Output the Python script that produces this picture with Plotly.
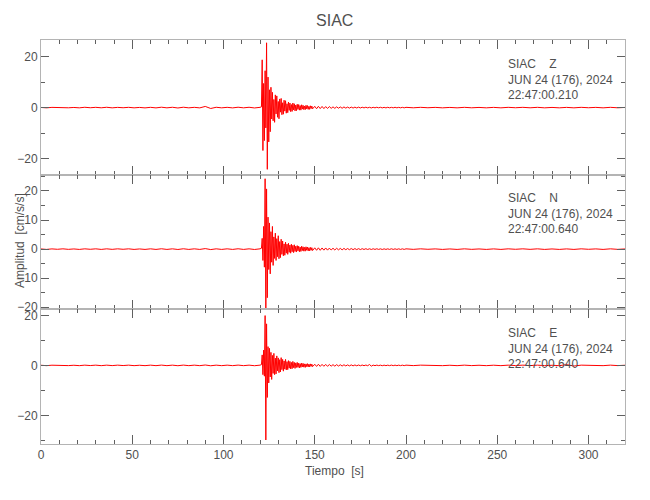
import numpy as np
import plotly.graph_objects as go
from plotly.subplots import make_subplots

# ---------------- data ----------------
station = "SIAC"
components = ["Z", "N", "E"]
date_label = "JUN 24 (176), 2024"
start_times = ["22:47:00.210", "22:47:00.640", "22:47:00.640"]

# sample timing of each segment [s]: (start, interval)
pre_start, pre_dt = 0.0, 3.0
evt_start, evt_dt = 120.8, 0.4
coda_start, coda_dt = 150.0, 1.0
post_start, post_dt = 200.0, 4.0

# Z component [cm/s/s]
z_pre = [0.05, -0.1, 0.08, -0.05, 0.1, -0.08, 0.05, -0.1, 0.12, -0.06,
         0.1, -0.08, 0.12, -0.1, 0.08, -0.06, 0.1, -0.1, 0.06, -0.12,
         0.1, -0.12, 0.15, -0.1, 0.12, -0.15, 0.14, -0.1, 0.1, -0.12,
         0.45, -0.35, 0.12, -0.1, 0.1, -0.12, 0.14, -0.1, 0.12, -0.14, 0.1]
z_evt = [0.3, 18.8, -16.9, 9.5, -13.0, 14.5, -8.0, 25.5, -24.3, 12.0,
         -13.5, 7.0, -9.5, 8.0, -4.5, 6.0, -5.2, 3.2, -5.8, 5.0,
         -2.5, 4.6, -3.8, 2.4, -4.4, 3.4, -1.8, 3.6, -2.8, 1.9,
         -2.6, 2.9, -1.4, 2.7, -2.2, 1.5, -2.0, 2.2, -1.1, 1.8,
         -1.6, 1.2, -1.5, 1.8, -0.9, 1.5, -1.3, 1.0, -1.2, 1.3,
         -0.7, 1.2, -1.0, 0.8, -1.0, 1.1, -0.6, 0.9, -0.8, 0.6,
         -0.8, 0.9, -0.5, 0.8, -0.7, 0.5, -0.7, 0.7, -0.4, 0.6, -0.5]
z_coda = [0.5, -0.45, 0.5, -0.4, 0.45, -0.4, 0.4, -0.35, 0.4, -0.3,
          0.3, -0.3, 0.3, -0.25, 0.25, -0.25, 0.25, -0.2, 0.2, -0.2,
          0.2, -0.18, 0.18, -0.15, 0.18, -0.15, 0.15, -0.12, 0.15, -0.12,
          0.12, -0.14, 0.12, -0.1, 0.14, -0.1, 0.12, -0.12, 0.1, -0.12,
          0.12, -0.1, 0.1, -0.1, 0.12, -0.1, 0.1, -0.1, 0.1, -0.1]
z_post = [0.1, -0.08, 0.1, -0.06, 0.08, -0.1, 0.06, -0.1, 0.1, -0.08,
          0.06, -0.1, 0.08, -0.1, 0.1, -0.06, 0.1, -0.08, 0.1, -0.1,
          0.06, -0.1, 0.08, -0.1, 0.1, -0.06, 0.08, -0.1, 0.1, -0.08, 0.06]

# N component [cm/s/s]
n_pre = [0.06, -0.1, 0.08, -0.06, 0.1, -0.08, 0.06, -0.1, 0.1, -0.06,
         0.1, -0.1, 0.1, -0.08, 0.1, -0.06, 0.1, -0.1, 0.06, -0.1,
         0.1, -0.1, 0.12, -0.1, 0.1, -0.12, 0.12, -0.1, 0.1, -0.1,
         0.18, -0.15, 0.1, -0.1, 0.1, -0.1, 0.12, -0.1, 0.1, -0.12, 0.1]
n_evt = [0.3, 3.7, -3.9, 7.8, -6.2, 24.2, -20.5, 20.7, -16.7, 11.0,
         -7.0, 9.0, -8.5, 6.0, -4.5, 7.8, -5.6, 4.2, -3.2, 5.5,
         -3.9, 3.6, -2.6, 4.6, -3.3, 2.6, -2.9, 3.4, -1.8, 2.8,
         -2.3, 1.8, -2.1, 2.4, -1.4, 1.7, -1.8, 2.0, -1.1, 1.4,
         -1.4, 1.7, -0.9, 1.3, -1.2, 1.5, -0.8, 1.0, -1.0, 1.2,
         -0.6, 1.0, -0.9, 0.7, -0.8, 1.0, -0.5, 0.8, -0.7, 0.6,
         -0.7, 0.8, -0.4, 0.7, -0.6, 0.5, -0.6, 0.6, -0.4, 0.5, -0.5]
n_coda = [0.45, -0.4, 0.45, -0.4, 0.4, -0.35, 0.4, -0.35, 0.35, -0.3,
          0.3, -0.3, 0.3, -0.25, 0.25, -0.25, 0.25, -0.2, 0.2, -0.2,
          0.2, -0.18, 0.18, -0.15, 0.16, -0.15, 0.15, -0.12, 0.14, -0.12,
          0.12, -0.12, 0.12, -0.1, 0.12, -0.1, 0.1, -0.12, 0.1, -0.1,
          0.1, -0.1, 0.12, -0.1, 0.1, -0.1, 0.1, -0.1, 0.1, -0.1]
n_post = [0.1, -0.08, 0.1, -0.06, 0.08, -0.1, 0.06, -0.1, 0.1, -0.08,
          0.06, -0.1, 0.08, -0.1, 0.1, -0.06, 0.1, -0.08, 0.1, -0.1,
          0.06, -0.1, 0.08, -0.1, 0.1, -0.06, 0.08, -0.1, 0.1, -0.08, 0.06]

# E component [cm/s/s]
e_pre = [0.06, -0.1, 0.08, -0.06, 0.1, -0.08, 0.06, -0.1, 0.1, -0.06,
         0.1, -0.1, 0.1, -0.08, 0.1, -0.06, 0.1, -0.1, 0.06, -0.1,
         0.1, -0.1, 0.12, -0.1, 0.1, -0.12, 0.12, -0.1, 0.1, -0.1,
         0.16, -0.14, 0.1, -0.1, 0.1, -0.1, 0.12, -0.1, 0.1, -0.12, 0.1]
e_evt = [0.3, 4.2, -3.7, 6.1, -4.3, 19.9, -29.8, 16.6, -12.8, 7.5,
         -7.0, 6.8, -4.6, 5.2, -5.6, 4.0, -3.2, 4.8, -3.7, 2.9,
         -3.4, 3.8, -2.2, 3.0, -2.9, 2.3, -2.6, 3.1, -1.7, 2.4,
         -2.3, 1.8, -1.5, 2.4, -1.8, 1.5, -1.7, 1.9, -1.1, 1.6,
         -1.4, 1.2, -1.3, 1.6, -0.9, 1.2, -1.2, 1.0, -0.8, 1.2,
         -0.8, 0.9, -1.0, 0.7, -0.8, 0.9, -0.6, 0.8, -0.7, 0.6,
         -0.8, 0.6, -0.5, 0.7, -0.6, 0.5, -0.6, 0.6, -0.4, 0.5, -0.5]
e_coda = [0.45, -0.4, 0.45, -0.4, 0.4, -0.35, 0.4, -0.35, 0.35, -0.3,
          0.3, -0.3, 0.3, -0.25, 0.25, -0.25, 0.25, -0.2, 0.2, -0.2,
          0.2, -0.18, 0.18, -0.15, 0.16, -0.15, 0.15, -0.12, 0.14, -0.12,
          0.35, -0.3, 0.12, -0.1, 0.12, -0.1, 0.1, -0.12, 0.1, -0.1,
          0.1, -0.1, 0.12, -0.1, 0.1, -0.1, 0.1, -0.1, 0.1, -0.1]
e_post = [0.1, -0.08, 0.1, -0.06, 0.08, -0.1, 0.06, -0.1, 0.1, -0.08,
          0.06, -0.1, 0.08, -0.1, 0.1, -0.06, 0.1, -0.08, 0.1, -0.1,
          0.06, -0.1, 0.3, -0.25, 0.1, -0.06, 0.08, -0.1, 0.1, -0.08, 0.06]

traces = [(z_pre, z_evt, z_coda, z_post),
          (n_pre, n_evt, n_coda, n_post),
          (e_pre, e_evt, e_coda, e_post)]

x_range = [0, 320]
y_ranges = [[-26.4, 26.6], [-20.7, 25.6], [-31.4, 22.4]]
y_dticks = [20, 10, 20]
y_minor = [10, 5, 10]
x_ticks = [0, 50, 100, 150, 200, 250, 300]


def sample_times(start, dt, vals):
    return list(start + dt * np.arange(len(vals)))


# ---------------- figure ----------------
FONT = "Liberation Sans, Arial, sans-serif"
TXT = "#505050"
AXC = "#b4b4b4"
TKC = "#606060"

fig = make_subplots(rows=3, cols=1, shared_xaxes=True, vertical_spacing=0)

for i, (pre, evt, coda, post) in enumerate(traces):
    t = (sample_times(pre_start, pre_dt, pre) + sample_times(evt_start, evt_dt, evt)
         + sample_times(coda_start, coda_dt, coda) + sample_times(post_start, post_dt, post))
    y = pre + evt + coda + post
    fig.add_trace(go.Scatter(x=t, y=y, mode="lines",
                             line=dict(color="#ff0000", width=1.0),
                             showlegend=False, hoverinfo="skip"),
                  row=i + 1, col=1)

    fig.update_yaxes(range=y_ranges[i], dtick=y_dticks[i], tick0=0,
                     ticks="inside", ticklen=8, tickwidth=1, tickcolor=TKC,
                     minor=dict(dtick=y_minor[i], tick0=0, ticks="inside",
                                ticklen=4, tickcolor=TKC),
                     showline=True, linecolor=AXC, linewidth=1, mirror="allticks",
                     showgrid=False, zeroline=False,
                     tickfont=dict(family=FONT, size=12, color=TXT),
                     row=i + 1, col=1)
    fig.update_xaxes(range=x_range, tickvals=x_ticks,
                     ticks="inside", ticklen=9, tickwidth=1, tickcolor=TKC,
                     minor=dict(dtick=10, tick0=0, ticks="inside",
                                ticklen=4, tickcolor=TKC),
                     showline=True, linecolor=AXC, linewidth=1, mirror="allticks",
                     showgrid=False, zeroline=False,
                     showticklabels=(i == 2),
                     tickfont=dict(family=FONT, size=12, color=TXT),
                     row=i + 1, col=1)

# station / date annotations
ann_y = [0.962, 0.631, 0.297]
for i in range(3):
    txt = (station + "\u00a0\u00a0\u00a0\u00a0" + components[i] + "<br>"
           + date_label + "<br>" + start_times[i])
    fig.add_annotation(xref="paper", yref="paper", x=0.797, y=ann_y[i],
                       xanchor="left", yanchor="top", align="left",
                       text=txt, showarrow=False,
                       font=dict(family=FONT, size=12, color=TXT))

fig.add_annotation(xref="paper", yref="paper", x=-0.036, y=0.505,
                   text="Amplitud\u00a0\u00a0[cm/s/s]", textangle=-90,
                   showarrow=False, xanchor="center", yanchor="middle",
                   font=dict(family=FONT, size=12, color=TXT))
fig.add_annotation(xref="paper", yref="paper", x=0.503, y=-0.066,
                   text="Tiempo\u00a0\u00a0[s]", showarrow=False,
                   xanchor="center", yanchor="middle",
                   font=dict(family=FONT, size=12, color=TXT))

# the page adds an 8 px offset on the left and top, compensated here
fig.update_layout(
    width=650, height=500,
    margin=dict(l=33, r=33, t=32, b=64, autoexpand=False),
    paper_bgcolor="white", plot_bgcolor="white",
    title=dict(text=station, x=0.503, xanchor="center", xref="paper",
               y=0.975, yanchor="middle",
               font=dict(family=FONT, size=16, color=TXT)),
)

fig.write_html("out.html")
